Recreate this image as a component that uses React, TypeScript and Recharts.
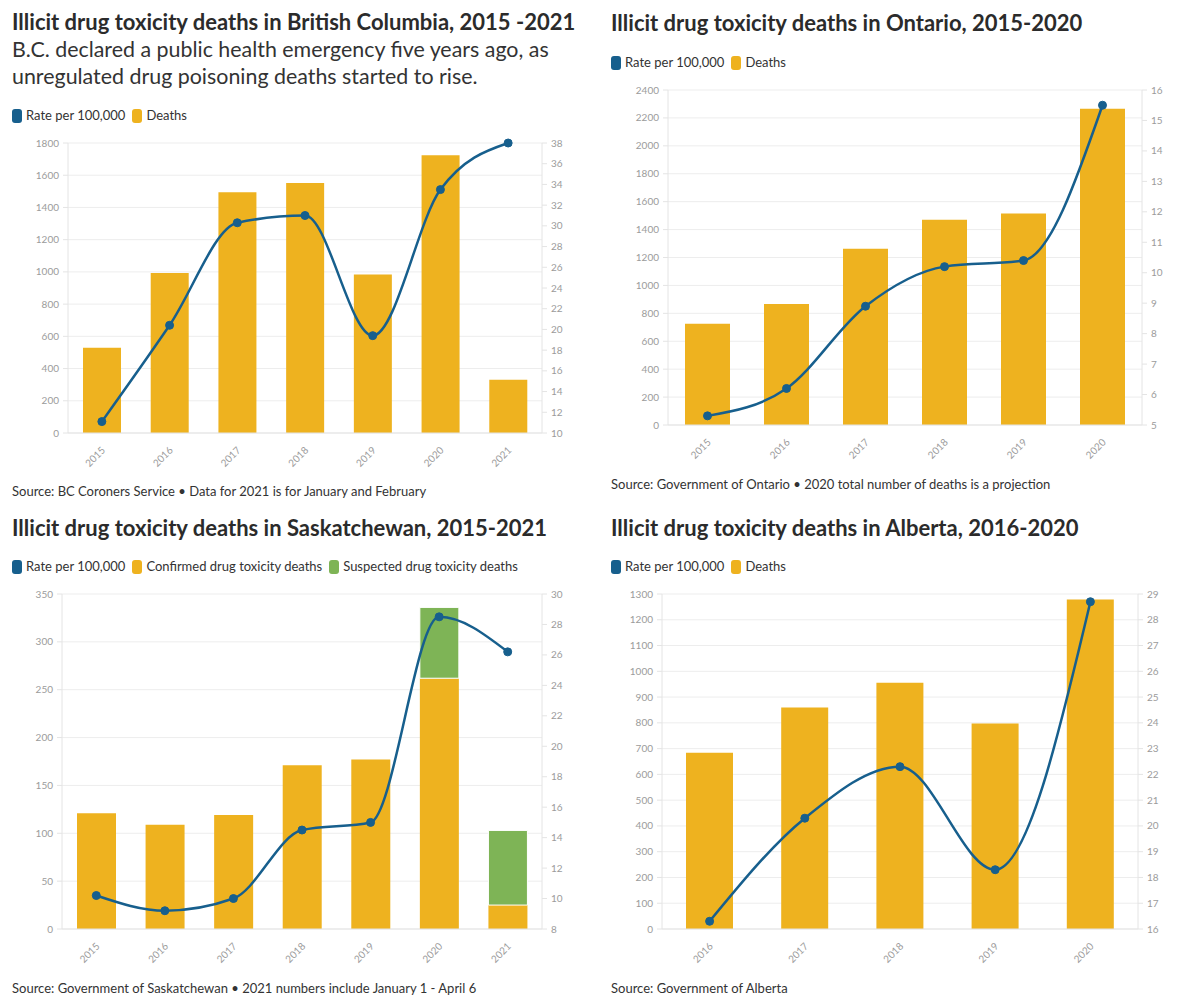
import React from 'react';
import { ComposedChart, Bar, Line, XAxis, YAxis, CartesianGrid } from 'recharts';

// ---------- Data ----------
const bcYears = ['2015', '2016', '2017', '2018', '2019', '2020', '2021'];
const bcDeaths = [529, 993, 1495, 1551, 984, 1724, 330];
const bcRate = [11.1, 20.4, 30.3, 31.0, 19.4, 33.5, 38.0];
const bcLeftTicks = [0, 200, 400, 600, 800, 1000, 1200, 1400, 1600, 1800];
const bcRightTicks = [10, 12, 14, 16, 18, 20, 22, 24, 26, 28, 30, 32, 34, 36, 38];

const onYears = ['2015', '2016', '2017', '2018', '2019', '2020'];
const onDeaths = [725, 866, 1262, 1470, 1515, 2266];
const onRate = [5.3, 6.2, 8.9, 10.2, 10.4, 15.5];
const onLeftTicks = [0, 200, 400, 600, 800, 1000, 1200, 1400, 1600, 1800, 2000, 2200, 2400];
const onRightTicks = [5, 6, 7, 8, 9, 10, 11, 12, 13, 14, 15, 16];

const skYears = ['2015', '2016', '2017', '2018', '2019', '2020', '2021'];
const skConfirmed = [121, 109, 119, 171, 177, 262, 25];
const skSuspected = [null, null, null, null, null, 74, 78];
const skRate = [10.2, 9.2, 10.0, 14.5, 15.0, 28.5, 26.2];
const skLeftTicks = [0, 50, 100, 150, 200, 250, 300, 350];
const skRightTicks = [8, 10, 12, 14, 16, 18, 20, 22, 24, 26, 28, 30];

const abYears = ['2016', '2017', '2018', '2019', '2020'];
const abDeaths = [684, 860, 956, 797, 1279];
const abRate = [16.3, 20.3, 22.3, 18.3, 28.7];
const abLeftTicks = [0, 100, 200, 300, 400, 500, 600, 700, 800, 900, 1000, 1100, 1200, 1300];
const abRightTicks = [16, 17, 18, 19, 20, 21, 22, 23, 24, 25, 26, 27, 28, 29];

// ---------- Style ----------
const FONT = 'Lato, "Noto Sans", sans-serif';
const YELLOW = '#EEB21F';
const BLUE = '#175F8D';
const GREEN = '#7EB456';
const TEXT = '#333333';
const AXIS = '#e4e4e4';
const GRID = '#ededed';
const TICK = '#9b9b9b';

const XTick = (props: any) => {
  const { x, y, payload } = props;
  return (
    <g transform={`translate(${x + 4},${y + 10})`}>
      <text x={0} y={0} textAnchor="end" transform="rotate(-45)" fontSize={10} fill={TICK} fontFamily={FONT}>
        {payload.value}
      </text>
    </g>
  );
};

type PanelProps = {
  panelX: number;
  plotLeft: number;
  plotRight: number;
  plotTop: number;
  plotBottom: number;
  data: any[];
  leftTicks: number[];
  rightTicks: number[];
  barSize: number;
  stacked?: boolean;
};

const Panel = (p: PanelProps) => {
  const height = p.plotBottom - p.plotTop + 10 + 60;
  const lt = p.leftTicks;
  const rt = p.rightTicks;
  return (
    <div style={{ position: 'absolute', left: p.panelX, top: p.plotTop - 10, width: 600, height }}>
      <ComposedChart width={600} height={height} data={p.data} margin={{ top: 10, right: 0, bottom: 0, left: 0 }} style={{ fontFamily: FONT }}>
        <CartesianGrid yAxisId="left" vertical={false} stroke={GRID} strokeWidth={1} />
        <XAxis dataKey="year" height={60} axisLine={{ stroke: AXIS }} tickLine={false} tick={<XTick />} interval={0} />
        <YAxis
          yAxisId="left"
          orientation="left"
          width={p.plotLeft - p.panelX}
          domain={[lt[0], lt[lt.length - 1]]}
          ticks={lt}
          interval={0}
          axisLine={{ stroke: AXIS }}
          tickLine={{ stroke: AXIS }}
          tickSize={5}
          tickMargin={4}
          tick={{ fontSize: 10, fill: TICK, fontFamily: FONT }}
        />
        <YAxis
          yAxisId="right"
          orientation="right"
          width={p.panelX + 600 - p.plotRight}
          domain={[rt[0], rt[rt.length - 1]]}
          ticks={rt}
          interval={0}
          axisLine={{ stroke: AXIS }}
          tickLine={{ stroke: AXIS }}
          tickSize={5}
          tickMargin={4}
          tick={{ fontSize: 10, fill: TICK, fontFamily: FONT, textAnchor: 'start' }}
        />
        {p.stacked ? (
          <Bar yAxisId="left" dataKey="deaths" stackId="a" fill={YELLOW} barSize={p.barSize} isAnimationActive={false} />
        ) : (
          <Bar yAxisId="left" dataKey="deaths" fill={YELLOW} barSize={p.barSize} isAnimationActive={false} />
        )}
        {p.stacked ? (
          <Bar yAxisId="left" dataKey="suspected" stackId="a" fill={GREEN} stroke="#ffffff" strokeWidth={1} barSize={p.barSize} isAnimationActive={false} />
        ) : null}
        <Line
          yAxisId="right"
          dataKey="rate"
          type="monotone"
          stroke={BLUE}
          strokeWidth={2.5}
          dot={{ r: 4, fill: BLUE, stroke: BLUE, strokeWidth: 1 }}
          activeDot={false}
          isAnimationActive={false}
        />
      </ComposedChart>
    </div>
  );
};

const Swatch = ({ color }: { color: string }) => (
  <span style={{ display: 'inline-block', width: 10, height: 14, borderRadius: 3, background: color, marginRight: 4, verticalAlign: 'middle', position: 'relative', top: -1 }} />
);

const Legend = ({ x, y, items }: { x: number; y: number; items: { label: string; color: string }[] }) => (
  <div style={{ position: 'absolute', left: x, top: y - 9, height: 18, lineHeight: '18px', fontSize: 13, color: TEXT, fontFamily: FONT, whiteSpace: 'nowrap' }}>
    {items.map((it, i) => (
      <span key={i} style={{ marginRight: 7 }}>
        <Swatch color={it.color} />
        {it.label}
      </span>
    ))}
  </div>
);

const Title = ({ x, y, text }: { x: number; y: number; text: string }) => (
  <div style={{ position: 'absolute', left: x, top: y - 14, lineHeight: '28px', fontSize: 22, fontWeight: 700, color: '#2b2b2b', fontFamily: FONT, whiteSpace: 'nowrap' }}>
    {text}
  </div>
);

const Source = ({ x, y, text }: { x: number; y: number; text: string }) => (
  <div style={{ position: 'absolute', left: x, top: y - 9, lineHeight: '18px', fontSize: 13, color: TEXT, fontFamily: FONT, whiteSpace: 'nowrap' }}>
    {text}
  </div>
);

export default function App() {
  const bcData = bcYears.map((year, i) => ({ year, deaths: bcDeaths[i], rate: bcRate[i] }));
  const onData = onYears.map((year, i) => ({ year, deaths: onDeaths[i], rate: onRate[i] }));
  const skData = skYears.map((year, i) => ({ year, deaths: skConfirmed[i], suspected: skSuspected[i], rate: skRate[i] }));
  const abData = abYears.map((year, i) => ({ year, deaths: abDeaths[i], rate: abRate[i] }));

  const rateItem = { label: 'Rate per 100,000', color: BLUE };
  const deathsItem = { label: 'Deaths', color: YELLOW };

  return (
    <div style={{ position: 'absolute', left: 0, top: 0, width: 1200, height: 1008, background: '#ffffff', fontFamily: FONT, overflow: 'hidden' }}>
      {/* British Columbia */}
      <Title x={12} y={22} text="Illicit drug toxicity deaths in British Columbia, 2015 -2021" />
      <div style={{ position: 'absolute', left: 12, top: 36, lineHeight: '27px', fontSize: 21.4, color: TEXT, fontFamily: FONT, whiteSpace: 'nowrap' }}>
        B.C. declared a public health emergency five years ago, as
        <br />
        unregulated drug poisoning deaths started to rise.
      </div>
      <Legend x={12} y={115} items={[rateItem, deathsItem]} />
      <Panel panelX={0} plotLeft={68} plotRight={542} plotTop={143} plotBottom={433} data={bcData} leftTicks={bcLeftTicks} rightTicks={bcRightTicks} barSize={38} />
      <Source x={12} y={491} text="Source: BC Coroners Service • Data for 2021 is for January and February" />

      {/* Ontario */}
      <Title x={611} y={23} text="Illicit drug toxicity deaths in Ontario, 2015-2020" />
      <Legend x={611} y={62} items={[rateItem, deathsItem]} />
      <Panel panelX={600} plotLeft={668} plotRight={1142} plotTop={90} plotBottom={425} data={onData} leftTicks={onLeftTicks} rightTicks={onRightTicks} barSize={45} />
      <Source x={611} y={484} text="Source: Government of Ontario • 2020 total number of deaths is a projection" />

      {/* Saskatchewan */}
      <Title x={12} y={528} text="Illicit drug toxicity deaths in Saskatchewan, 2015-2021" />
      <Legend
        x={12}
        y={566}
        items={[rateItem, { label: 'Confirmed drug toxicity deaths', color: YELLOW }, { label: 'Suspected drug toxicity deaths', color: GREEN }]}
      />
      <Panel panelX={0} plotLeft={62} plotRight={542} plotTop={594} plotBottom={929} data={skData} leftTicks={skLeftTicks} rightTicks={skRightTicks} barSize={39} stacked />
      <Source x={12} y={988} text="Source: Government of Saskatchewan • 2021 numbers include January 1 - April 6" />

      {/* Alberta */}
      <Title x={611} y={528} text="Illicit drug toxicity deaths in Alberta, 2016-2020" />
      <Legend x={611} y={566} items={[rateItem, deathsItem]} />
      <Panel panelX={600} plotLeft={662} plotRight={1138} plotTop={594} plotBottom={929} data={abData} leftTicks={abLeftTicks} rightTicks={abRightTicks} barSize={47} />
      <Source x={611} y={988} text="Source: Government of Alberta" />
    </div>
  );
}
